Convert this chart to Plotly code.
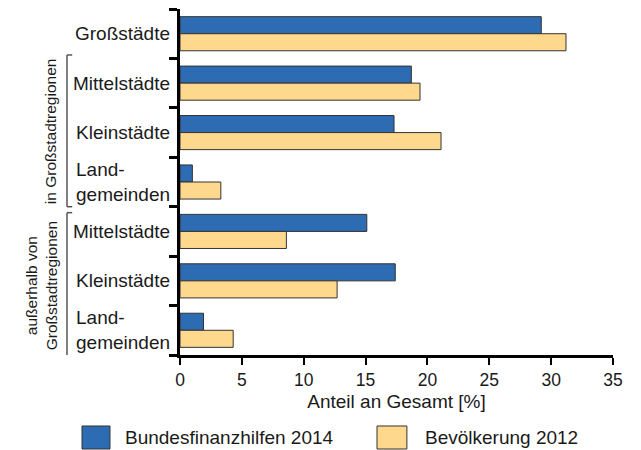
import plotly.graph_objects as go

# ---- data ----
category_labels = ["Großstädte", "Mittelstädte", "Kleinstädte", "Land-<br>gemeinden",
                   "Mittelstädte", "Kleinstädte", "Land-<br>gemeinden"]
bundesfinanzhilfen_2014 = [29.2, 18.7, 17.3, 1.0, 15.1, 17.4, 1.9]
bevoelkerung_2012 = [31.2, 19.4, 21.1, 3.3, 8.6, 12.7, 4.3]
series_names = ["Bundesfinanzhilfen 2014", "Bevölkerung 2012"]
group_labels = ["in Großstadtregionen", "außerhalb von<br>Großstadtregionen"]
x_ticks = [0, 5, 10, 15, 20, 25, 30, 35]

BLUE = "#2d6bb3"
YELLOW = "#fed88c"
EDGE = "#333333"
FONT = "Liberation Sans, Arial, sans-serif"
TXT = "#1a1a1a"

pos = list(range(len(category_labels)))

fig = go.Figure()
fig.add_trace(go.Bar(y=pos, x=bundesfinanzhilfen_2014, orientation="h", name=series_names[0],
                     marker=dict(color=BLUE, line=dict(color=EDGE, width=1))))
fig.add_trace(go.Bar(y=pos, x=bevoelkerung_2012, orientation="h", name=series_names[1],
                     marker=dict(color=YELLOW, line=dict(color=EDGE, width=1))))

n = len(category_labels)
fig.update_layout(
    width=641, height=450,
    margin=dict(l=180, r=28, t=9, b=95),
    paper_bgcolor="white", plot_bgcolor="white",
    barmode="group", bargap=0.31, bargroupgap=0,
    showlegend=False,
    font=dict(family=FONT, size=17, color=TXT),
    xaxis=dict(range=[0, 35], tickvals=x_ticks, ticks="outside", ticklen=7, tickwidth=2,
               tickcolor="black", showline=True, linecolor="black", linewidth=3,
               showgrid=False, zeroline=False, automargin=False,
               tickfont=dict(size=17.5, color=TXT),
               title=dict(text="Anteil an Gesamt [%]", font=dict(size=19, color=TXT), standoff=6)),
    yaxis=dict(range=[n - 0.5, -0.5], tickvals=[i - 0.5 for i in range(n + 1)],
               showticklabels=False, ticks="outside", ticklen=8, tickwidth=2.5,
               tickcolor="black", showline=True, linecolor="black", linewidth=3,
               showgrid=False, zeroline=False, automargin=False),
)

# category labels
for i, lab in enumerate(category_labels):
    fig.add_annotation(x=0, xref="paper", y=i, yref="y", text=lab, showarrow=False,
                       xanchor="right", yanchor="middle", xshift=-8, align="left",
                       font=dict(size=19, color=TXT, family=FONT))

# group brackets
BR = "#555555"
for (y0, y1) in [(0.43, 3.5), (3.62, 6.56)]:
    fig.add_shape(type="line", xref="paper", yref="y", x0=-0.261, x1=-0.261, y0=y0, y1=y1,
                  line=dict(color=BR, width=1.5))
    for yy in (y0, y1):
        fig.add_shape(type="line", xref="paper", yref="y", x0=-0.261, x1=-0.249, y0=yy, y1=yy,
                      line=dict(color=BR, width=1.5))

fig.add_annotation(x=-0.300, xref="paper", y=1.97, yref="y", text=group_labels[0], showarrow=False,
                   textangle=-90, xanchor="center", yanchor="middle",
                   font=dict(size=15.5, color=TXT, family=FONT))
fig.add_annotation(x=-0.320, xref="paper", y=5.1, yref="y", text=group_labels[1], showarrow=False,
                   textangle=-90, xanchor="center", yanchor="middle", align="center",
                   font=dict(size=15.5, color=TXT, family=FONT))

# legend drawn as boxes + text
legend_items = [(series_names[0], BLUE, -0.2263, -0.1617, -0.1316),
                (series_names[1], YELLOW, 0.455, 0.524, 0.561)]
for name, col, xa, xb, xt in legend_items:
    fig.add_shape(type="rect", xref="paper", yref="paper", x0=xa, x1=xb, y0=-0.2052, y1=-0.2717,
                  fillcolor=col, line=dict(color=EDGE, width=1))
    fig.add_annotation(x=xt, xref="paper", y=-0.237, yref="paper", text=name, showarrow=False,
                       xanchor="left", yanchor="middle", font=dict(size=19, color=TXT, family=FONT))

fig.write_html("out.html", config={"displayModeBar": False},
               post_script="document.body.style.margin='0';")
